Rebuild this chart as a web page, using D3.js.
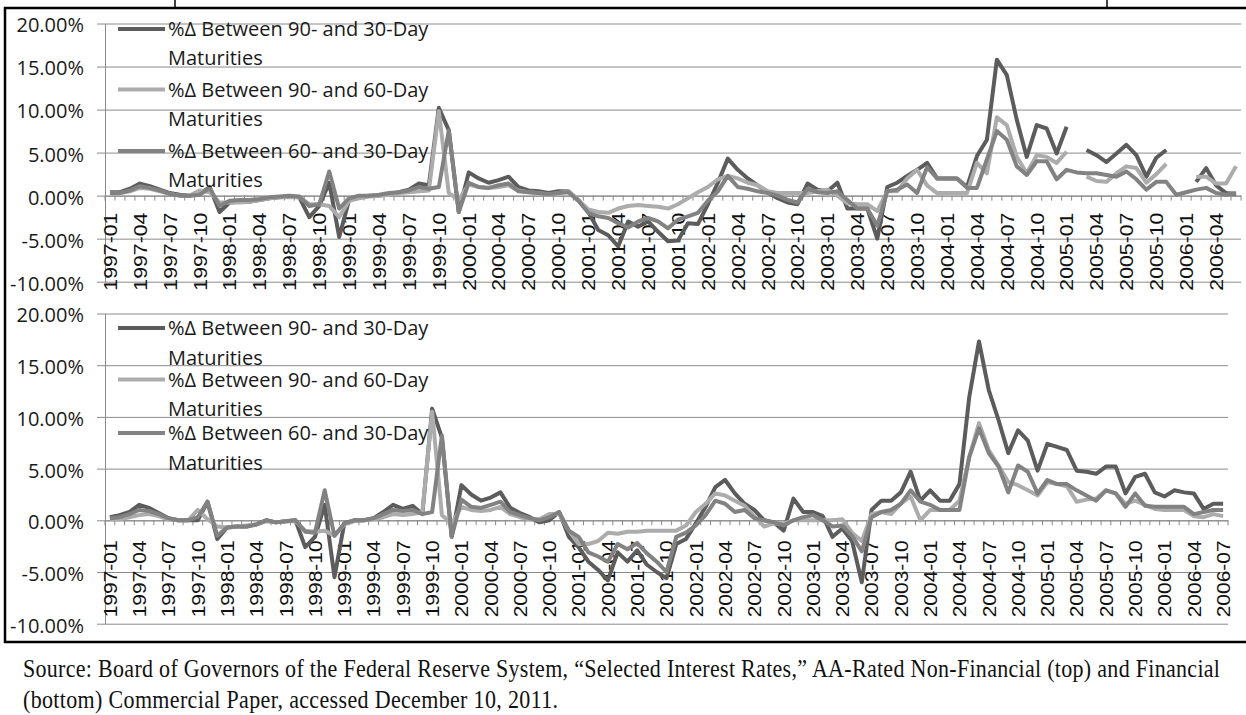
<!DOCTYPE html>
<html>
<head>
<meta charset="utf-8">
<script src="https://cdn.jsdelivr.net/npm/d3@7"></script>
<style>
  body { margin: 0; background: #fff; }
  svg { display: block; }
</style>
</head>
<body>
<div id="chart"></div>
<script>
//CATEGORIES - monthly, 1997-01 .. 2006-07
var months = d3.timeMonths(new Date(1997, 0, 1), new Date(2006, 7, 1)).map(d3.timeFormat("%Y-%m"));

var seriesNames = [
  "%\u0394 Between 90- and 30-Day",
  "%\u0394 Between 90- and 60-Day",
  "%\u0394 Between 60- and 30-Day"
];
var seriesColors = ["#5c5c5c", "#acacac", "#828282"];

var yTicks = [-10, -5, 0, 5, 10, 15, 20];

//top panel: AA non-financial (values in %, null = gap)
var top90_30 = [
  0.4, 0.4, 0.8, 1.4, 1.1, 0.7, 0.3, 0.1, 0.0, 0.2, 1.0, -1.9,
  -0.8, -0.7, -0.7, -0.5, -0.3, -0.2, -0.1, -0.2, -2.5, -1.2, 1.5, -4.8,
  -0.5, -0.2, 0.0, 0.0, 0.2, 0.4, 0.7, 1.4, 1.2, 10.2, 7.6, -1.9,
  2.7, 2.0, 1.5, 1.8, 2.2, 1.0, 0.6, 0.5, 0.3, 0.5, 0.5, -0.5,
  -1.9, -4.0, -4.6, -5.9, -3.0, -3.6, -3.0, -4.2, -5.3, -5.2, -3.2, -3.3,
  -1.0, 1.5, 4.3, 3.0, 2.0, 1.2, 0.4, -0.3, -0.8, -1.0, 1.4, 0.7,
  0.5, 1.5, -1.5, -1.5, -1.5, -5.0, 1.0, 1.5, 2.3, 3.0, 3.8, 2.0,
  2.0, 2.0, 1.0, 4.6, 6.5, 15.8, 14.0, 8.8, 4.5, 8.2, 7.8, 4.9,
  8.0, null, 5.3, 4.7, 3.9, 4.9, 5.9, 4.7, 2.2, 4.4, 5.3, null,
  null, 1.6, 3.2, 1.2, 0.3, 0.2
];
var top90_60 = [
  0.2, 0.3, 0.5, 0.9, 0.8, 0.5, 0.2, 0.0, 0.0, 0.6, 0.4, -0.8,
  -0.8, -0.8, -0.7, -0.5, -0.3, -0.2, -0.2, -0.2, -1.0, -1.0, -1.2, -2.5,
  -0.6, -0.3, -0.1, 0.0, 0.1, 0.3, 0.4, 0.5, 0.6, 9.8, 0.3, -0.5,
  1.3, 1.0, 0.9, 1.0, 1.2, 0.6, 0.4, 0.3, 0.1, 0.3, 0.5, -0.5,
  -1.6, -1.9, -2.0, -1.5, -1.2, -1.1, -1.2, -1.3, -1.5, -1.0, -0.3, 0.4,
  1.0, 1.9, 2.3, 2.0, 1.5, 1.2, 0.5, 0.3, 0.3, 0.3, 0.3, 0.5,
  0.7, 0.0, -0.9, -1.0, -1.0, -1.8, 0.5, 0.5, 2.0, 3.0, 1.2, 0.3,
  0.3, 0.3, 0.3, 3.8, 2.6, 9.1, 8.2, 4.5, 2.6, 4.7, 4.5, 3.8,
  5.1, null, 2.2, 1.7, 1.6, 2.6, 3.4, 3.2, 1.5, 2.5, 3.7, null,
  null, 2.2, 2.2, 1.4, 1.4, 3.4
];
var top60_30 = [
  0.3, 0.3, 0.6, 1.1, 0.9, 0.6, 0.2, 0.0, 0.0, 0.1, 0.9, -1.2,
  -0.6, -0.5, -0.5, -0.4, -0.2, -0.1, 0.0, -0.1, -1.2, -1.0, 2.8, -1.5,
  -0.3, 0.0, 0.0, 0.1, 0.3, 0.4, 0.6, 1.0, 0.8, 1.0, 7.6, -1.9,
  1.5, 1.0, 0.9, 1.2, 1.4, 0.5, 0.4, 0.3, 0.2, 0.3, 0.4, -0.6,
  -2.0, -2.4, -2.6, -3.2, -3.7, -3.0, -2.6, -3.0, -3.8, -2.8, -2.4, -2.0,
  -0.6, 0.5, 2.3, 1.0, 0.8, 0.5, 0.3, 0.0, -0.5, -0.8, 0.8, 0.4,
  0.3, 0.5, -0.5, -1.5, -1.5, -3.5, 0.5, 0.7, 1.3, 0.3, 3.3, 2.0,
  2.0, 2.0, 0.9, 0.9, 4.2, 7.5, 6.5, 3.4, 2.4, 4.0, 4.0, 1.9,
  3.0, 2.7, 2.6, 2.6, 2.4, 2.2, 2.8, 1.9, 0.7, 1.6, 1.6, 0.1,
  0.4, 0.7, 0.9, 0.3, 0.1, 0.3
];

//bottom panel: AA financial
var bot90_30 = [
  0.3, 0.5, 0.8, 1.5, 1.2, 0.7, 0.2, 0.0, 0.0, 0.0, 1.8, -1.8,
  -0.7, -0.6, -0.6, -0.4, 0.0, -0.2, -0.1, 0.0, -2.6, -1.6, 1.5, -5.5,
  -0.3, 0.0, 0.0, 0.2, 0.8, 1.5, 1.1, 1.4, 0.6, 10.8, 8.0, -1.6,
  3.4, 2.5, 1.9, 2.2, 2.7, 1.2, 0.7, 0.3, -0.2, 0.0, 0.8, -1.6,
  -2.6, -4.0, -4.8, -5.8, -3.1, -4.0, -2.9, -4.3, -5.0, -5.6, -2.3, -1.8,
  -0.3, 1.3, 3.2, 3.9, 2.6, 1.6, 1.0, 0.0, -0.2, -1.0, 2.1, 0.8,
  0.8, 0.4, -1.6, -0.8, -2.0, -6.0, 1.0, 1.9, 1.9, 2.7, 4.7, 1.9,
  2.9, 1.9, 1.9, 3.5, 11.9, 17.3, 12.6, 9.7, 6.5, 8.7, 7.7, 4.8,
  7.4, 7.1, 6.8, 4.8, 4.7, 4.5, 5.2, 5.2, 2.6, 4.2, 4.5, 2.7,
  2.3, 2.9, 2.7, 2.6, 1.1, 1.6, 1.6
];
var bot90_60 = [
  0.1, 0.1, 0.3, 0.5, 0.6, 0.4, 0.1, 0.0, 0.0, 1.0, 0.1, -0.6,
  -0.7, -0.6, -0.5, -0.4, -0.1, -0.2, -0.1, -0.1, -1.0, -1.1, -1.0, -1.5,
  -0.4, -0.1, 0.0, 0.1, 0.3, 0.6, 0.5, 0.6, 0.8, 10.5, 0.5, -0.3,
  1.3, 1.0, 0.9, 1.0, 1.3, 0.6, 0.3, 0.1, 0.1, 0.6, 0.6, -1.0,
  -2.3, -2.3, -2.0, -1.2, -1.3, -1.1, -1.1, -1.0, -1.0, -1.0, -1.0, -0.5,
  0.8, 1.6, 2.6, 2.4, 1.9, 1.4, 0.4, -0.6, -0.3, -0.3, 0.0, 0.0,
  0.0, 0.0, 0.0, 0.1, -1.2, -2.0, 0.6, 0.8, 0.6, 1.6, 2.3, 0.0,
  1.0, 1.0, 1.0, 1.9, 6.1, 9.4, 6.8, 5.3, 3.7, 3.4, 2.9, 2.4,
  3.7, 3.5, 3.3, 1.8, 2.0, 2.1, 2.9, 2.6, 1.6, 1.9, 1.5, 1.1,
  1.0, 1.0, 1.0, 0.4, 0.3, 0.6, 0.4
];
var bot60_30 = [
  0.2, 0.3, 0.6, 1.0, 0.9, 0.6, 0.2, 0.0, 0.0, 0.3, 1.8, -1.5,
  -0.7, -0.6, -0.6, -0.4, 0.0, -0.2, -0.1, 0.0, -1.1, -1.2, 2.9, -1.5,
  -0.3, 0.0, 0.0, 0.2, 0.6, 1.0, 0.9, 1.0, 0.6, 0.8, 8.2, -1.6,
  2.0, 1.3, 1.2, 1.5, 1.8, 0.8, 0.5, 0.2, 0.0, 0.3, 0.8, -1.0,
  -1.6, -3.1, -3.5, -4.0, -2.3, -2.8, -2.2, -3.2, -4.0, -5.0, -1.6, -1.2,
  -0.5, 0.5, 1.9, 1.6, 0.8, 1.0, 0.2, 0.0, -0.2, -0.5, 0.0, 0.3,
  0.5, 0.0, -0.6, -0.5, -1.5, -3.0, 0.3, 0.8, 1.0, 1.6, 2.9, 1.8,
  1.5, 1.0, 1.0, 1.0, 6.1, 8.9, 6.5, 5.2, 2.7, 5.3, 4.7, 2.6,
  3.9, 3.5, 3.5, 2.9, 2.4, 1.9, 2.9, 2.6, 1.3, 2.6, 1.4, 1.3,
  1.3, 1.3, 1.3, 0.6, 0.8, 1.0, 1.0
];

var sourceLines = [
  "Source: Board of Governors of the Federal Reserve System, \u201cSelected Interest Rates,\u201d AA-Rated Non-Financial (top) and Financial",
  "(bottom) Commercial Paper, accessed December 10, 2011."
];

var width = 1246, height = 715;

var svg = d3.select("#chart").append("svg")
  .attr("width", width)
  .attr("height", height);

//panel layout (pixels)
var panels = [
  {series: [top90_30, top90_60, top60_30], n: 114, left: 105, right: 1241, top: 23.5, bottom: 281.7,
   labelOff: 17, labelLen: 78, legendY: [29, 89.5, 151], legendGap: 30},
  {series: [bot90_30, bot90_60, bot60_30], n: 115, left: 105, right: 1228, top: 313.5, bottom: 623.7,
   labelOff: 20, labelLen: 77, legendY: [328, 379.5, 433], legendGap: 30.5}
];

panels.forEach(drawPanel);

function drawPanel(p) {
  var cats = months.slice(0, p.n);

  var x = d3.scaleBand()
    .domain(cats)
    .range([p.left, p.right]);

  var y = d3.scaleLinear()
    .domain([-10, 20])
    .range([p.bottom, p.top]);

  var g = svg.append("g");

  //gridlines + y axis labels
  var yAxis = g.append("g")
    .attr("transform", "translate(" + p.left + ",0)")
    .call(d3.axisLeft(y)
      .tickValues(yTicks)
      .tickSizeInner(-(p.right - p.left))
      .tickSizeOuter(0)
      .tickPadding(21)
      .tickFormat(function(d) { return d.toFixed(2) + "%"; }));

  yAxis.select(".domain")
    .attr("stroke", "#8a8a8a");
  yAxis.selectAll(".tick line")
    .attr("x1", -8)
    .attr("stroke", "#8a8a8a");
  yAxis.selectAll(".tick text")
    .attr("font-family", "'Open Sans', sans-serif")
    .attr("font-size", 20)
    .attr("fill", "#1a1a1a")
    .attr("dy", "0.42em");

  //category axis at 0%
  var y0 = y(0);
  var xAxis = g.append("g")
    .attr("transform", "translate(0," + y0 + ")")
    .call(d3.axisBottom(x)
      .tickValues(cats.filter(function(d, i) { return i % 3 === 0; }))
      .tickSize(0)
      .tickPadding(0));

  xAxis.select(".domain").attr("stroke", "#8a8a8a");
  xAxis.selectAll(".tick text")
    .attr("font-family", "'Liberation Sans', Arial, sans-serif")
    .attr("font-size", 19)
    .attr("fill", "#111")
    .attr("transform", "rotate(-90)")
    .attr("x", -p.labelOff)
    .attr("y", 0)
    .attr("dy", "0.36em")
    .attr("text-anchor", "end")
    .attr("textLength", p.labelLen)
    .attr("lengthAdjust", "spacingAndGlyphs");

  //month boundary ticks
  var bounds = cats.map(function(d) { return x(d); }).concat([x(cats[cats.length - 1]) + x.bandwidth()]);
  g.append("g").selectAll("line")
    .data(bounds)
    .enter().append("line")
      .attr("x1", function(d) { return d; })
      .attr("x2", function(d) { return d; })
      .attr("y1", y0)
      .attr("y2", y0 + 5)
      .attr("stroke", "#8a8a8a");

  //lines
  var line = d3.line()
    .defined(function(d) { return d.v !== null; })
    .x(function(d) { return x(d.m) + x.bandwidth() / 2; })
    .y(function(d) { return y(d.v); });

  p.series.forEach(function(vals, k) {
    var pts = cats.map(function(m, i) { return {m: m, v: vals[i]}; });
    g.append("path")
      .datum(pts)
      .attr("fill", "none")
      .attr("stroke", seriesColors[k])
      .attr("stroke-width", 4)
      .attr("stroke-linejoin", "round")
      .attr("d", line);
  });

  //legend
  var leg = g.selectAll(".legend")
      .data(seriesNames)
    .enter().append("g")
      .attr("class", "legend")
      .attr("transform", function(d, i) { return "translate(0," + p.legendY[i] + ")"; });

  leg.append("line")
    .attr("x1", 118)
    .attr("x2", 165)
    .attr("stroke", function(d, i) { return seriesColors[i]; })
    .attr("stroke-width", 4);

  leg.append("text")
    .attr("x", 168)
    .attr("dy", "0.36em")
    .attr("font-family", "'Open Sans', sans-serif")
    .attr("font-size", 20)
    .attr("fill", "#1a1a1a")
    .text(function(d) { return d; });

  leg.append("text")
    .attr("x", 168)
    .attr("y", p.legendGap)
    .attr("dy", "0.3em")
    .attr("font-family", "'Open Sans', sans-serif")
    .attr("font-size", 20)
    .attr("fill", "#1a1a1a")
    .text("Maturities");
}

//frame
var frame = svg.append("g")
  .attr("stroke", "#000")
  .attr("fill", "none");
frame.append("line").attr("x1", 4).attr("x2", width).attr("y1", 8).attr("y2", 8).attr("stroke-width", 2.5);
frame.append("line").attr("x1", 5).attr("x2", 5).attr("y1", 7).attr("y2", 643).attr("stroke-width", 2.5);
frame.append("line").attr("x1", 4).attr("x2", width).attr("y1", 642).attr("y2", 642).attr("stroke-width", 2.5);
frame.append("line").attr("x1", 175).attr("x2", 175).attr("y1", 0).attr("y2", 8).attr("stroke-width", 1.5);
frame.append("line").attr("x1", 1107).attr("x2", 1107).attr("y1", 0).attr("y2", 8).attr("stroke-width", 1.5);

//source note (glyphs a bit taller than wide, as in the scan)
svg.selectAll(".source")
    .data(sourceLines)
  .enter().append("text")
    .attr("class", "source")
    .attr("transform", function(d, i) { return "translate(23," + (677 + i * 31) + ") scale(1,1.12)"; })
    .attr("font-family", "'Liberation Serif', 'Times New Roman', serif")
    .attr("font-size", 22)
    .attr("fill", "#111")
    .attr("textLength", function(d, i) { return i === 0 ? 1197 : 535; })
    .attr("lengthAdjust", "spacing")
    .text(function(d) { return d; });
</script>
</body>
</html>
